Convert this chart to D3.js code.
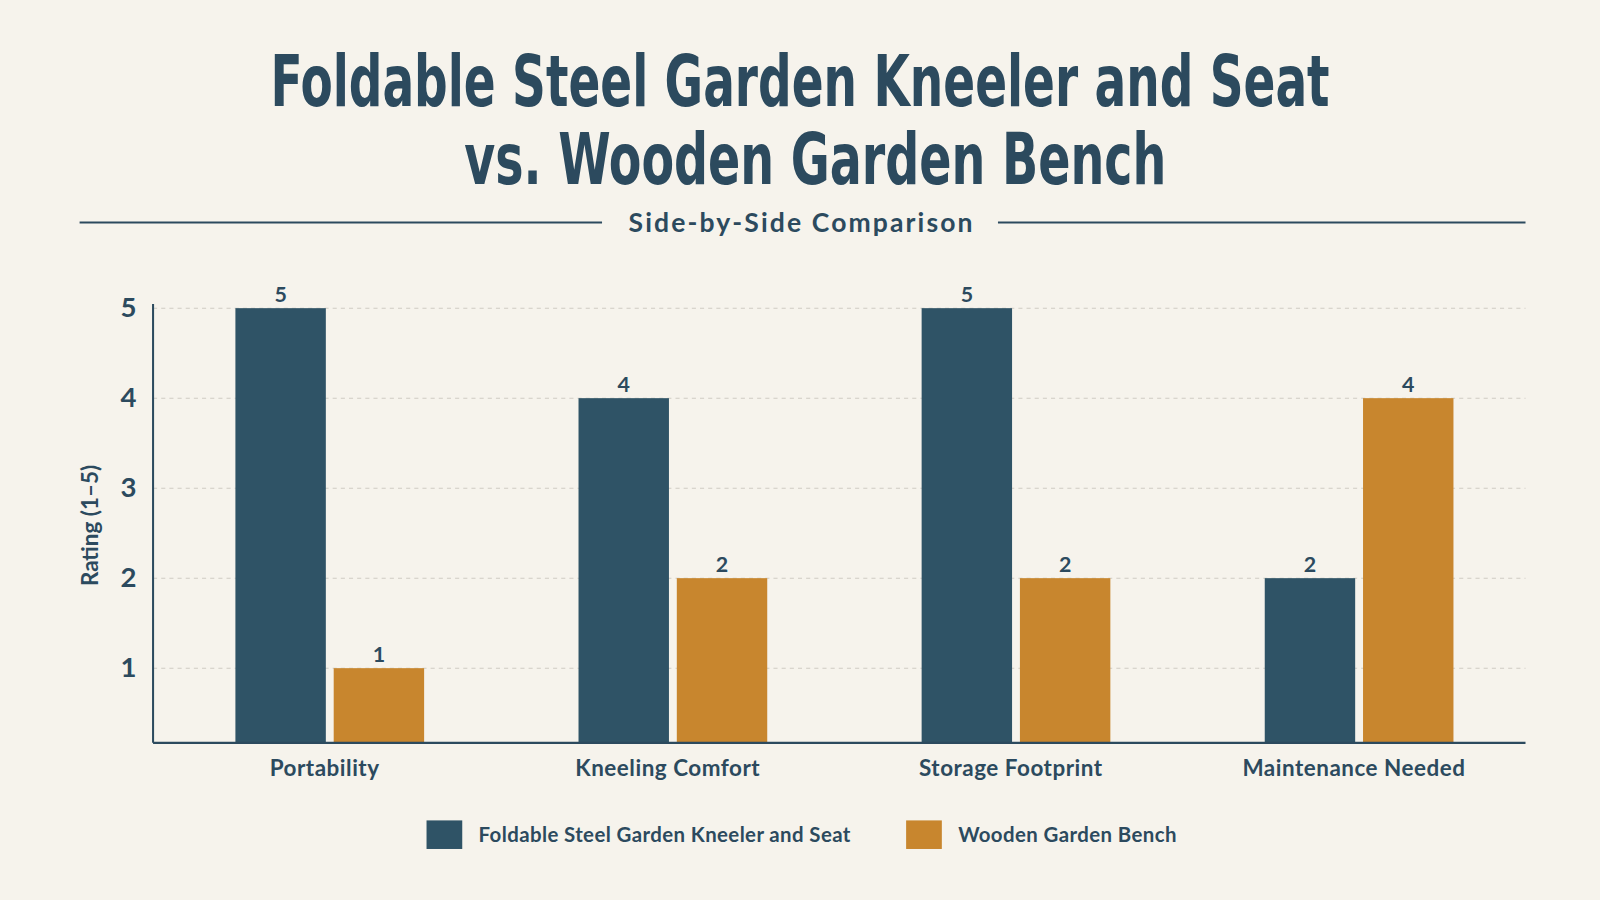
<!DOCTYPE html>
<html><head><meta charset="utf-8">
<script src="https://cdn.jsdelivr.net/npm/d3@7"></script>
<style>body{margin:0;background:#f6f3ec}svg{display:block}</style>
</head><body><svg width="1600" height="900"></svg>
<script>
const categories=["Portability","Kneeling Comfort","Storage Footprint","Maintenance Needed"];
const seriesNames=["Foldable Steel Garden Kneeler and Seat","Wooden Garden Bench"];
const steelValues=[5,4,5,2];
const benchValues=[1,2,2,4];
const yTicks=[1,2,3,4,5];
const colors=["#2f5366","#c8862e"];
const ink="#2c4a5e";

const svg=d3.select("svg");
svg.append("rect").attr("width",1600).attr("height",900).attr("fill","#f6f3ec");
const g=svg.append("g").attr("transform","scale("+(1600/1568)+")");
const titleFont="'DejaVu Sans Condensed','DejaVu Sans',sans-serif";
g.append("text").attr("x",265).attr("y",104).attr("font-family",titleFont)
 .attr("font-weight",700).attr("font-size",70).attr("fill",ink)
 .attr("textLength",1038).attr("lengthAdjust","spacingAndGlyphs").text("Foldable Steel Garden Kneeler and Seat");
g.append("text").attr("x",455).attr("y",180).attr("font-family",titleFont)
 .attr("font-weight",700).attr("font-size",70).attr("fill",ink)
 .attr("textLength",688).attr("lengthAdjust","spacingAndGlyphs").text("vs. Wooden Garden Bench");
g.append("line").attr("x1",78).attr("x2",590).attr("y1",218).attr("y2",218).attr("stroke",ink).attr("stroke-width",2);
g.append("line").attr("x1",978).attr("x2",1495).attr("y1",218).attr("y2",218).attr("stroke",ink).attr("stroke-width",2);
g.append("text").attr("x",616).attr("y",227).attr("font-family","Lato,'Open Sans',sans-serif")
 .attr("font-weight",700).attr("font-size",26).attr("fill",ink)
 .attr("textLength",337).attr("lengthAdjust","spacing").text("Side-by-Side Comparison");

const L=150,R=1495,B=728;
const y=d3.scaleLinear().domain([0.17,5]).range([B,302]);
const x0=d3.scaleBand().domain(categories).range([L,R]);
const x1=d3.scaleBand().domain(seriesNames).range([x0.bandwidth()*0.24,x0.bandwidth()*0.79]).paddingInner(0.08);
const font="Lato,'Open Sans',sans-serif";

yTicks.forEach(t=>{
 g.append("line").attr("x1",L).attr("x2",R).attr("y1",y(t)).attr("y2",y(t)).attr("stroke","#cfcbc2").attr("stroke-dasharray","4,4");
 g.append("text").attr("x",126).attr("y",y(t)+9).attr("text-anchor","middle").attr("font-family",font).attr("font-weight",700)
  .attr("font-size",27).attr("fill",ink).text(t);
});
g.append("text").attr("transform","translate(96,515) rotate(-90)").attr("text-anchor","middle").attr("font-family",font)
 .attr("font-weight",700).attr("font-size",22).attr("fill",ink).text("Rating (1–5)");

const data=categories.map((c,i)=>({c,vals:[steelValues[i],benchValues[i]]}));
const grp=g.selectAll(".grp").data(data).join("g").attr("transform",d=>`translate(${x0(d.c)},0)`);
grp.selectAll("rect").data(d=>d.vals.map((v,j)=>({v,s:seriesNames[j],j}))).join("rect")
 .attr("x",d=>x1(d.s)).attr("width",x1.bandwidth()).attr("y",d=>y(d.v)).attr("height",d=>B-y(d.v)).attr("fill",d=>colors[d.j]);
grp.selectAll("text.v").data(d=>d.vals.map((v,j)=>({v,s:seriesNames[j]}))).join("text").attr("class","v")
 .attr("x",d=>x1(d.s)+x1.bandwidth()/2).attr("y",d=>y(d.v)-6).attr("text-anchor","middle").attr("font-family",font)
 .attr("font-weight",700).attr("font-size",21).attr("fill",ink).text(d=>d.v);
grp.append("text").attr("x",x0.bandwidth()/2).attr("y",760).attr("text-anchor","middle").attr("font-family",font)
 .attr("font-weight",700).attr("font-size",22).attr("letter-spacing",0.5).attr("fill",ink).text(d=>d.c);

g.append("line").attr("x1",L).attr("x2",L).attr("y1",298).attr("y2",B).attr("stroke",ink).attr("stroke-width",2);
g.append("line").attr("x1",L).attr("x2",R).attr("y1",B).attr("y2",B).attr("stroke",ink).attr("stroke-width",2);

const legX=[418,888];
seriesNames.forEach((s,i)=>{
 g.append("rect").attr("x",legX[i]).attr("y",804).attr("width",35).attr("height",28).attr("fill",colors[i]);
 g.append("text").attr("x",legX[i]+51).attr("y",825).attr("font-family",font).attr("font-weight",700)
  .attr("font-size",20).attr("letter-spacing",0.4).attr("fill",ink).text(s);
});
</script></body></html>
